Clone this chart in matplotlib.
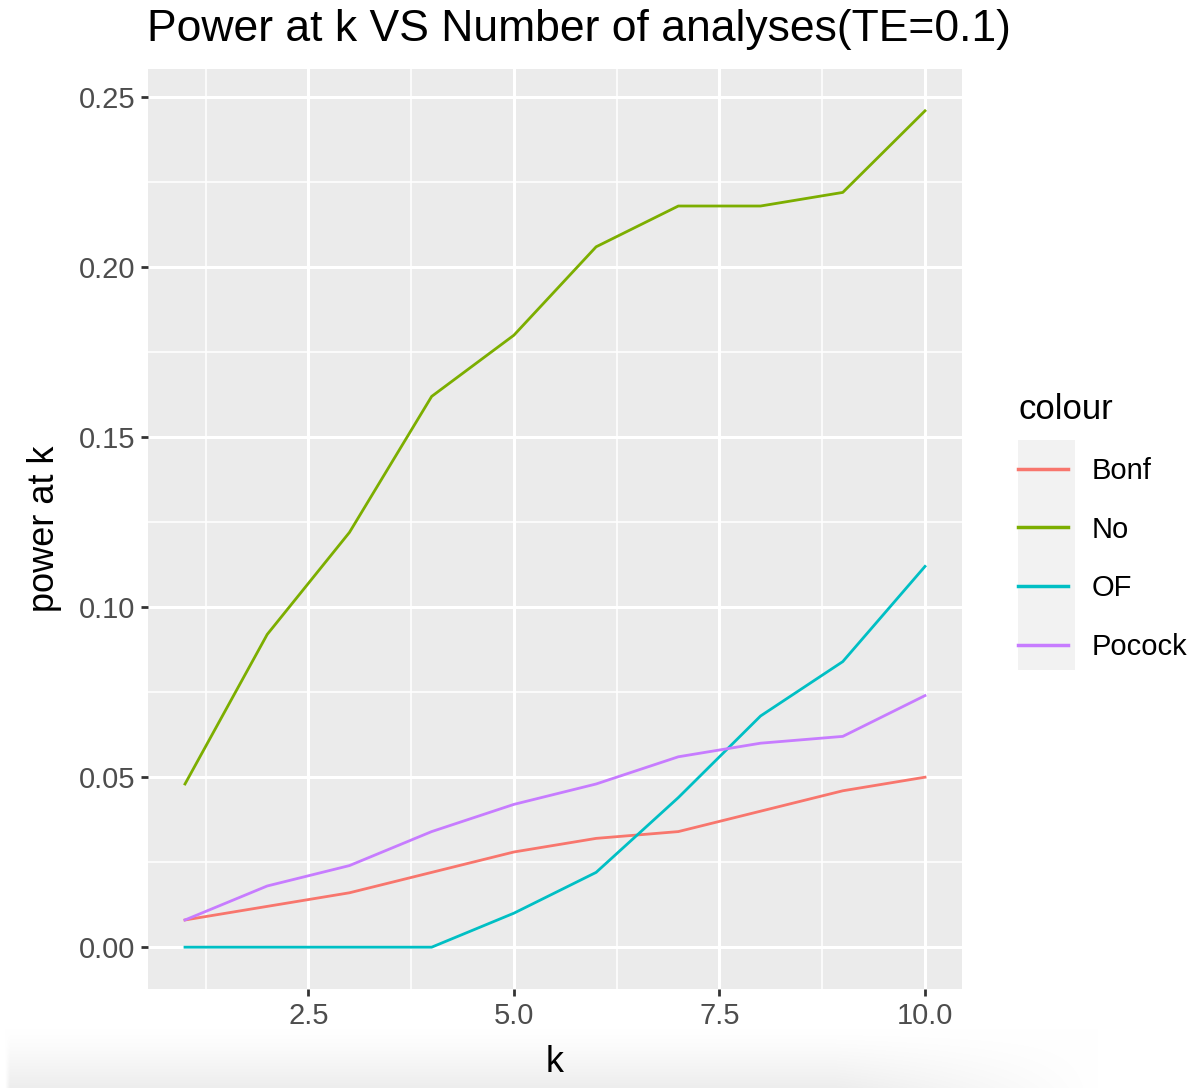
import matplotlib
matplotlib.use("Agg")
import matplotlib.pyplot as plt
import numpy as np
from matplotlib.patches import Rectangle

plt.rcParams['font.family'] = ['Liberation Sans', 'DejaVu Sans']

k = [1, 2, 3, 4, 5, 6, 7, 8, 9, 10]
series_names = ["Bonf", "No", "OF", "Pocock"]
bonf = [0.008, 0.012, 0.016, 0.022, 0.028, 0.032, 0.034, 0.040, 0.046, 0.050]
no_adj = [0.048, 0.092, 0.122, 0.162, 0.180, 0.206, 0.218, 0.218, 0.222, 0.246]
of = [0.0, 0.0, 0.0, 0.0, 0.010, 0.022, 0.044, 0.068, 0.084, 0.112]
pocock = [0.008, 0.018, 0.024, 0.034, 0.042, 0.048, 0.056, 0.060, 0.062, 0.074]
colors = ["#F8766D", "#7CAE00", "#00BFC4", "#C77CFF"]
xticks = [2.5, 5.0, 7.5, 10.0]
yticks = [0.00, 0.05, 0.10, 0.15, 0.20, 0.25]

W, H = 1194, 1088
fig = plt.figure(figsize=(W / 100, H / 100), dpi=100)

# faint screenshot shadow at the bottom
bg = fig.add_axes([0, 0, 1, 60 / H], zorder=-5)
yy = np.linspace(0, 1, 60)[:, None]
xx = np.linspace(0, 1, W)[None, :]
shade = ((1 - yy) ** 1.3) * np.clip((0.92 - xx) / 0.22, 0, 1) * np.clip((xx - 0.004) / 0.004, 0, 1)
val = 1.0 - 0.07 * shade
bg.imshow(np.dstack([val, val, val]), aspect='auto', origin='lower', extent=[0, 1, 0, 1])
bg.set_axis_off()

# panel: left 148, right 962, top 69, bottom 989 (pixels)
ax = fig.add_axes([148 / W, 1 - 989 / H, (962 - 148) / W, (989 - 69) / H])
ax.set_facecolor("#EBEBEB")
for s in ax.spines.values():
    s.set_visible(False)

data = [bonf, no_adj, of, pocock]
lines = []
for name, vals, c in zip(series_names, data, colors):
    ln, = ax.plot(k, vals, color=c, lw=2.0, label=name)
    lines.append(ln)

allv = np.concatenate([np.array(d) for d in data])
xr = max(k) - min(k)
yr = allv.max() - allv.min()
ax.set_xlim(min(k) - 0.05 * xr, max(k) + 0.05 * xr)
ax.set_ylim(allv.min() - 0.05 * yr, allv.max() + 0.05 * yr)

ax.set_xticks(xticks)
ax.set_xticklabels([f"{t:.1f}" for t in xticks])
ax.set_yticks(yticks)
ax.set_yticklabels([f"{t:.2f}" for t in yticks])
minor_x = [(a + b) / 2 for a, b in zip([0.0] + xticks[:-1], xticks)]
minor_y = [(a + b) / 2 for a, b in zip(yticks[:-1], yticks[1:])]
ax.set_xticks(minor_x, minor=True)
ax.set_yticks(minor_y, minor=True)
ax.grid(which='major', color='white', lw=2.2)
ax.grid(which='minor', color='white', lw=1.1)
ax.set_axisbelow(True)
ax.tick_params(which='major', length=5, width=2, color='#333333', labelcolor='#4D4D4D',
               labelsize=21, pad=4)
ax.tick_params(which='minor', length=0)

ax.set_xlabel("k", fontsize=26, color='black', labelpad=11)
ax.set_ylabel("power at k", fontsize=26, color='black', labelpad=12)
fig.text(147 / W, 1 - 30 / H, "Power at k VS Number of analyses(TE=0.1)", fontsize=32,
         ha='left', va='center', color='black')

# legend key background
fig.patches.append(Rectangle((1018 / W, 1 - 670 / H), (1075 - 1018) / W, (670 - 440) / H,
                             transform=fig.transFigure, facecolor='#F2F2F2', edgecolor='none',
                             zorder=0))
leg = fig.legend(handles=lines, labels=series_names, title="colour",
                 loc='upper left', bbox_to_anchor=(992 / W, 1 - 367 / H),
                 frameon=False, fontsize=21, title_fontsize=25,
                 handlelength=1.7, handletextpad=0.8, labelspacing=1.05,
                 alignment='left')
for h in leg.legend_handles:
    h.set_linewidth(2.5)

plt.savefig("out.png", dpi=100)
